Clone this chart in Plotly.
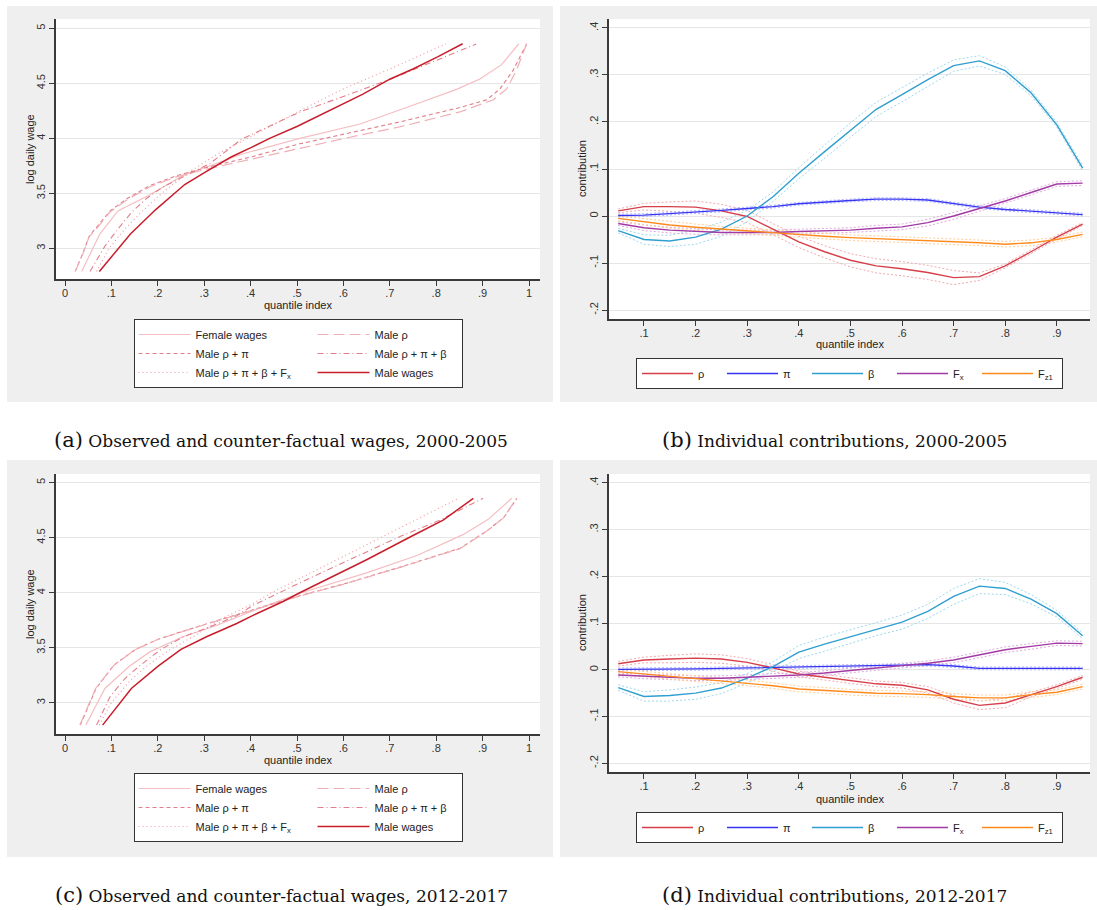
import plotly.graph_objects as go

W, H = 1097, 910

# ---------------- data: panel (a) 2000-2005, quantile index vs log daily wage ----------------
a_female_q = [0.036, 0.075, 0.114, 0.182, 0.255, 0.384, 0.506, 0.636, 0.736, 0.844, 0.894, 0.941, 0.978]
a_female_w = [2.79, 3.13, 3.34, 3.485, 3.665, 3.86, 4.0, 4.13, 4.28, 4.445, 4.54, 4.67, 4.86]
a_rho_q = [0.022, 0.039, 0.052, 0.068, 0.097, 0.133, 0.183, 0.24, 0.305, 0.4, 0.506, 0.614, 0.722, 0.851, 0.923, 0.952, 0.973, 0.995]
a_rho_w = [2.79, 2.955, 3.105, 3.18, 3.33, 3.44, 3.56, 3.65, 3.72, 3.81, 3.91, 4.01, 4.105, 4.24, 4.35, 4.45, 4.62, 4.86]
a_rhopi_q = [0.022, 0.039, 0.052, 0.068, 0.097, 0.133, 0.183, 0.24, 0.305, 0.4, 0.506, 0.614, 0.722, 0.851, 0.909, 0.9375, 0.966, 0.995]
a_rhopi_w = [2.79, 2.96, 3.11, 3.19, 3.34, 3.45, 3.57, 3.66, 3.735, 3.83, 3.95, 4.05, 4.15, 4.28, 4.35, 4.45, 4.62, 4.86]
a_rpb_q = [0.054, 0.086, 0.115, 0.144, 0.176, 0.212, 0.269, 0.312, 0.38, 0.506, 0.6, 0.70, 0.886]
a_rpb_w = [2.79, 3.02, 3.18, 3.33, 3.455, 3.56, 3.68, 3.77, 3.99, 4.24, 4.38, 4.536, 4.857]
a_rpbf_q = [0.068, 0.095, 0.13, 0.165, 0.208, 0.27, 0.33, 0.392, 0.506, 0.6, 0.7, 0.821]
a_rpbf_w = [2.79, 3.0, 3.18, 3.33, 3.5, 3.7, 3.86, 4.0, 4.25, 4.45, 4.63, 4.86]
a_male_q = [0.074, 0.141, 0.195, 0.258, 0.305, 0.358, 0.403, 0.441, 0.501, 0.573, 0.641, 0.701, 0.75, 0.803, 0.857]
a_male_w = [2.79, 3.13, 3.35, 3.58, 3.70, 3.83, 3.92, 4.0, 4.11, 4.26, 4.40, 4.54, 4.63, 4.74, 4.86]

# ---------------- data: panel (c) 2012-2017 ----------------
c_female_q = [0.045, 0.086, 0.138, 0.182, 0.254, 0.325, 0.42, 0.506, 0.65, 0.76, 0.859, 0.912, 0.963]
c_female_w = [2.797, 3.13, 3.33, 3.46, 3.60, 3.70, 3.86, 3.995, 4.18, 4.34, 4.53, 4.667, 4.858]
c_rho_q = [0.032, 0.066, 0.105, 0.15, 0.2, 0.25, 0.305, 0.403, 0.506, 0.603, 0.722, 0.851, 0.909, 0.945, 0.973]
c_rho_w = [2.797, 3.13, 3.34, 3.48, 3.575, 3.645, 3.715, 3.84, 3.97, 4.08, 4.23, 4.40, 4.56, 4.68, 4.858]
c_rhopi_q = [0.033, 0.067, 0.106, 0.152, 0.202, 0.252, 0.307, 0.405, 0.508, 0.605, 0.724, 0.852, 0.91, 0.946, 0.974]
c_rhopi_w = [2.797, 3.13, 3.345, 3.485, 3.58, 3.65, 3.72, 3.845, 3.975, 4.085, 4.235, 4.405, 4.565, 4.685, 4.858]
c_rpb_q = [0.068, 0.097, 0.129, 0.162, 0.205, 0.255, 0.3125, 0.37, 0.403, 0.456, 0.506, 0.603, 0.722, 0.808, 0.901]
c_rpb_w = [2.797, 3.055, 3.22, 3.34, 3.48, 3.60, 3.69, 3.79, 3.88, 3.99, 4.09, 4.28, 4.51, 4.66, 4.858]
c_rpbf_q = [0.074, 0.1, 0.14, 0.178, 0.225, 0.276, 0.34, 0.40, 0.45, 0.506, 0.65, 0.848]
c_rpbf_w = [2.797, 3.0, 3.2, 3.34, 3.48, 3.60, 3.77, 3.89, 4.01, 4.13, 4.44, 4.858]
c_male_q = [0.081, 0.143, 0.2, 0.25, 0.305, 0.37, 0.403, 0.47, 0.506, 0.603, 0.65, 0.75, 0.815, 0.88]
c_male_w = [2.797, 3.13, 3.33, 3.485, 3.60, 3.72, 3.79, 3.92, 4.0, 4.2, 4.3, 4.52, 4.66, 4.858]

# ---------------- data: panels (b) and (d), individual contributions ----------------
quantiles = [0.05, 0.10, 0.15, 0.20, 0.25, 0.30, 0.35, 0.40, 0.45, 0.50,
             0.55, 0.60, 0.65, 0.70, 0.75, 0.80, 0.85, 0.90, 0.95]

b_rho = [0.011, 0.020, 0.020, 0.019, 0.011, -0.001, -0.028, -0.055, -0.076, -0.094,
         -0.106, -0.112, -0.120, -0.131, -0.129, -0.106, -0.076, -0.045, -0.017]
b_pi = [0.001, 0.002, 0.005, 0.008, 0.012, 0.016, 0.020, 0.026, 0.030, 0.033,
        0.036, 0.036, 0.034, 0.026, 0.019, 0.014, 0.010, 0.006, 0.003]
b_beta = [-0.031, -0.050, -0.053, -0.045, -0.028, 0.0, 0.041, 0.091, 0.137, 0.183,
          0.227, 0.258, 0.290, 0.320, 0.330, 0.309, 0.262, 0.194, 0.102]
b_fx = [-0.016, -0.025, -0.030, -0.033, -0.035, -0.035, -0.035, -0.033, -0.032, -0.030,
        -0.026, -0.023, -0.014, 0.0, 0.016, 0.032, 0.050, 0.068, 0.070]
b_fz = [-0.005, -0.012, -0.019, -0.024, -0.028, -0.032, -0.035, -0.039, -0.043, -0.046,
        -0.048, -0.050, -0.053, -0.055, -0.057, -0.060, -0.057, -0.050, -0.039]
# confidence band half-widths (dotted lines)
b_rho_ci = [0.004, 0.007, 0.010, 0.013, 0.014, 0.013, 0.012, 0.012, 0.013, 0.014,
            0.015, 0.015, 0.015, 0.015, 0.008, 0.004, 0.004, 0.004, 0.003]
b_pi_ci = [0.003] * 19
b_beta_ci = [0.005, 0.010, 0.012, 0.015, 0.015, 0.012, 0.010, 0.012, 0.014, 0.015,
             0.015, 0.015, 0.014, 0.012, 0.011, 0.008, 0.006, 0.005, 0.006]
b_fx_ci = [0.004, 0.006, 0.006, 0.006, 0.005, 0.005, 0.005, 0.005, 0.005, 0.005,
           0.006, 0.006, 0.007, 0.007, 0.006, 0.005, 0.005, 0.005, 0.005]
b_fz_ci = [0.005, 0.006, 0.007, 0.007, 0.006, 0.006, 0.006, 0.006, 0.006, 0.006,
           0.006, 0.006, 0.006, 0.006, 0.006, 0.006, 0.006, 0.005, 0.005]

d_rho = [0.013, 0.021, 0.023, 0.025, 0.023, 0.016, 0.004, -0.009, -0.016, -0.023,
         -0.030, -0.033, -0.043, -0.063, -0.076, -0.071, -0.053, -0.036, -0.016]
d_pi = [0.001, 0.001, 0.002, 0.002, 0.003, 0.004, 0.005, 0.006, 0.007, 0.008,
        0.009, 0.010, 0.011, 0.008, 0.003, 0.003, 0.003, 0.003, 0.003]
d_beta = [-0.038, -0.057, -0.055, -0.050, -0.039, -0.018, 0.007, 0.038, 0.055, 0.071,
          0.087, 0.102, 0.125, 0.157, 0.179, 0.174, 0.151, 0.120, 0.073]
d_fx = [-0.011, -0.014, -0.016, -0.018, -0.018, -0.016, -0.014, -0.011, -0.007, -0.001,
        0.004, 0.009, 0.014, 0.021, 0.032, 0.043, 0.050, 0.057, 0.056]
d_fz = [-0.004, -0.009, -0.014, -0.019, -0.023, -0.028, -0.034, -0.041, -0.044, -0.048,
        -0.050, -0.051, -0.053, -0.057, -0.060, -0.060, -0.053, -0.048, -0.036]
d_rho_ci = [0.005, 0.006, 0.008, 0.009, 0.009, 0.008, 0.007, 0.006, 0.006, 0.006,
            0.006, 0.006, 0.007, 0.008, 0.009, 0.010, 0.005, 0.004, 0.004]
d_pi_ci = [0.003] * 19
d_beta_ci = [0.006, 0.010, 0.012, 0.013, 0.012, 0.010, 0.010, 0.014, 0.015, 0.014,
             0.014, 0.015, 0.015, 0.017, 0.016, 0.013, 0.010, 0.007, 0.006]
d_fx_ci = [0.004, 0.005, 0.005, 0.005, 0.005, 0.005, 0.005, 0.005, 0.005, 0.005,
           0.005, 0.005, 0.005, 0.006, 0.006, 0.006, 0.006, 0.005, 0.005]
d_fz_ci = [0.005, 0.006, 0.006, 0.006, 0.006, 0.006, 0.006, 0.006, 0.006, 0.006,
           0.006, 0.006, 0.006, 0.006, 0.006, 0.006, 0.006, 0.005, 0.005]

# ---------------- labels / ticks ----------------
wage_names = ["Female wages", "Male ρ", "Male ρ + π", "Male ρ + π + β",
              "Male ρ + π + β + F<sub>x</sub>", "Male wages"]
contrib_names = ["ρ", "π", "β", "F<sub>x</sub>", "F<sub>z1</sub>"]
wage_ticks = [3, 3.5, 4, 4.5, 5]
wage_tick_text = ["3", "3.5", "4", "4.5", "5"]
q_ticks_full = [0, 0.1, 0.2, 0.3, 0.4, 0.5, 0.6, 0.7, 0.8, 0.9, 1]
q_text_full = ["0", ".1", ".2", ".3", ".4", ".5", ".6", ".7", ".8", ".9", "1"]
q_ticks_inner = [0.1, 0.2, 0.3, 0.4, 0.5, 0.6, 0.7, 0.8, 0.9]
q_text_inner = [".1", ".2", ".3", ".4", ".5", ".6", ".7", ".8", ".9"]
contrib_ticks = [-0.2, -0.1, 0, 0.1, 0.2, 0.3, 0.4]
contrib_tick_text = ["-.2", "-.1", "0", ".1", ".2", ".3", ".4"]
captions = ["Observed and counter-factual wages, 2000-2005",
            "Individual contributions, 2000-2005",
            "Observed and counter-factual wages, 2012-2017",
            "Individual contributions, 2012-2017"]

# ---------------- styles ----------------
SANS = "Liberation Sans, Arial, sans-serif"
SERIF = "DejaVu Serif, serif"
wage_styles = [
    dict(color="#f4bec2", dash="solid", width=1.2),            # Female wages
    dict(color="#eeb0b6", dash="11px,5px", width=1.2),         # Male rho
    dict(color="#e27f89", dash="4px,3px", width=1.1),          # Male rho+pi
    dict(color="#e27f89", dash="6px,3px,1px,3px", width=1.1),  # Male rho+pi+beta
    dict(color="#f09ca4", dash="1px,3px", width=1.2),          # + Fx
    dict(color="#c81d2b", dash="solid", width=1.5),            # Male wages
]
wage_groups = ["c1", "c2", "c1", "c2", "c1", "c2"]
wage_draw_order = [0, 2, 4, 1, 3, 5]
contrib_colors = ["#d63f4a", "#3535f2", "#2f9fd0", "#a23aa6", "#ff8a1c"]
ci_colors = ["#f2a9ae", "#b4b4ff", "#9fd8ee", "#ddaade", "#ffcd95"]

fig = go.Figure()


def add_wage_panel(xa, ya, legend_id, curves):
    for i in wage_draw_order:
        q, w = curves[i]
        fig.add_trace(go.Scatter(
            x=q, y=w, mode="lines", name=wage_names[i], line=wage_styles[i],
            xaxis=xa, yaxis=ya, legend=legend_id, legendgroup=legend_id + wage_groups[i],
            legendwidth=(112 if wage_groups[i] == "c1" else 82), hoverinfo="skip"))


def add_contrib_panel(xa, ya, legend_id, series, bands):
    for k, (s, hw) in enumerate(zip(series, bands)):
        for sign in (1, -1):
            fig.add_trace(go.Scatter(
                x=quantiles, y=[v + sign * h for v, h in zip(s, hw)], mode="lines",
                line=dict(color=ci_colors[k], width=1, dash="2px,2px"),
                xaxis=xa, yaxis=ya, showlegend=False, hoverinfo="skip"))
    for k, s in enumerate(series):
        fig.add_trace(go.Scatter(
            x=quantiles, y=s, mode="lines", name=contrib_names[k],
            line=dict(color=contrib_colors[k], width=1.4),
            xaxis=xa, yaxis=ya, legend=legend_id, hoverinfo="skip"))


add_wage_panel("x", "y", "legend",
               [(a_female_q, a_female_w), (a_rho_q, a_rho_w), (a_rhopi_q, a_rhopi_w),
                (a_rpb_q, a_rpb_w), (a_rpbf_q, a_rpbf_w), (a_male_q, a_male_w)])
add_contrib_panel("x2", "y2", "legend2",
                  [b_rho, b_pi, b_beta, b_fx, b_fz],
                  [b_rho_ci, b_pi_ci, b_beta_ci, b_fx_ci, b_fz_ci])
add_wage_panel("x3", "y3", "legend3",
               [(c_female_q, c_female_w), (c_rho_q, c_rho_w), (c_rhopi_q, c_rhopi_w),
                (c_rpb_q, c_rpb_w), (c_rpbf_q, c_rpbf_w), (c_male_q, c_male_w)])
add_contrib_panel("x4", "y4", "legend4",
                  [d_rho, d_pi, d_beta, d_fx, d_fz],
                  [d_rho_ci, d_pi_ci, d_beta_ci, d_fx_ci, d_fz_ci])

# ---------------- layout geometry (pixels) ----------------
def fx(px):
    return px / W


def fy(py):
    return 1 - py / H


AXIS_COLOR = "#3a3a3a"
GRID_COLOR = "#e6e6e6"
tickfont = dict(family=SANS, size=11, color="#333")


def xaxis_cfg(x0, x1, rng, tv, tt, anchor):
    return dict(domain=[fx(x0), fx(x1)], range=rng, anchor=anchor, tickvals=tv, ticktext=tt,
                showgrid=False, zeroline=False, showline=True, linecolor=AXIS_COLOR, linewidth=1.5,
                ticks="outside", ticklen=5, tickwidth=1.2, tickcolor=AXIS_COLOR, tickfont=tickfont,
                ticklabelstandoff=-2, fixedrange=True)


def yaxis_cfg(ytop, ybot, rng, tv, tt, anchor):
    return dict(domain=[fy(ybot), fy(ytop)], range=rng, anchor=anchor, tickvals=tv, ticktext=tt,
                tickangle=-90, showgrid=True, gridcolor=GRID_COLOR, gridwidth=1.2, zeroline=False,
                showline=True, linecolor=AXIS_COLOR, linewidth=1.5, ticks="outside", ticklen=5,
                tickwidth=1.2, tickcolor=AXIS_COLOR, tickfont=tickfont, fixedrange=True)


panels = {
    "a": dict(box=(7, 6, 553, 402), plot=(56, 19, 540, 279)),
    "b": dict(box=(560, 6, 1097, 402), plot=(609, 19, 1090, 319)),
    "c": dict(box=(7, 460, 553, 857), plot=(56, 474, 540, 734)),
    "d": dict(box=(560, 460, 1097, 857), plot=(609, 474, 1090, 772)),
}

shapes = []
for p in panels.values():
    x0, y0, x1, y1 = p["box"]
    shapes.append(dict(type="rect", xref="paper", yref="paper", x0=fx(x0), x1=fx(x1), y0=fy(y1), y1=fy(y0),
                       fillcolor="#efefef", line=dict(width=0), layer="below"))
for p in panels.values():
    x0, y0, x1, y1 = p["plot"]
    shapes.append(dict(type="rect", xref="paper", yref="paper", x0=fx(x0), x1=fx(x1), y0=fy(y1), y1=fy(y0),
                       fillcolor="#ffffff", line=dict(width=0), layer="below"))

wage_x_range = [-0.0194, 1.0237]
contrib_x_range = [0.0322, 0.9643]

annotations = []


def title_ann(text, x, y, angle=0):
    annotations.append(dict(text=text, x=fx(x), y=fy(y), xref="paper", yref="paper", showarrow=False,
                            textangle=angle, xanchor="center", yanchor="middle",
                            font=dict(family=SANS, size=11, color="#222")))


title_ann("quantile index", 298, 305)
title_ann("log daily wage", 30, 149, -90)
title_ann("quantile index", 849.5, 344)
title_ann("contribution", 582, 169, -90)
title_ann("quantile index", 298, 760)
title_ann("log daily wage", 30, 604, -90)
title_ann("quantile index", 849.5, 799)
title_ann("contribution", 582, 623, -90)

for lab, cap, cx, cy in [("(a)", captions[0], 281, 440), ("(b)", captions[1], 834, 440),
                         ("(c)", captions[2], 281, 895), ("(d)", captions[3], 834, 895)]:
    annotations.append(dict(text="<span style='font-size:21px'>" + lab + "</span> " + cap,
                            x=fx(cx), y=fy(cy), xref="paper", yref="paper", showarrow=False,
                            xanchor="center", yanchor="middle",
                            font=dict(family=SERIF, size=17, color="#111")))


def legend_cfg(cx, ytop, entrywidth=None, itemwidth=52, grouped=False):
    cfg = dict(x=fx(cx), y=fy(ytop), xanchor="center", yanchor="top", orientation="h",
               bgcolor="#ffffff", bordercolor="#333", borderwidth=1, itemwidth=itemwidth,
               font=dict(family=SANS, size=11, color="#222"), tracegroupgap=0,
               itemclick=False, itemdoubleclick=False)
    if grouped:
        cfg["traceorder"] = "grouped"
    if entrywidth is not None:
        cfg["entrywidth"] = entrywidth
    return cfg


fig.update_layout(
    width=W, height=H, margin=dict(l=0, r=0, t=0, b=0),
    paper_bgcolor="#ffffff", plot_bgcolor="rgba(0,0,0,0)",
    showlegend=True,
    xaxis=xaxis_cfg(56, 540, wage_x_range, q_ticks_full, q_text_full, "y"),
    yaxis=yaxis_cfg(19, 279, [2.721, 5.085], wage_ticks, wage_tick_text, "x"),
    xaxis2=xaxis_cfg(609, 1090, contrib_x_range, q_ticks_inner, q_text_inner, "y2"),
    yaxis2=yaxis_cfg(19, 319, [-0.219, 0.419], contrib_ticks, contrib_tick_text, "x2"),
    xaxis3=xaxis_cfg(56, 540, wage_x_range, q_ticks_full, q_text_full, "y3"),
    yaxis3=yaxis_cfg(474, 734, [2.716, 5.079], wage_ticks, wage_tick_text, "x3"),
    xaxis4=xaxis_cfg(609, 1090, contrib_x_range, q_ticks_inner, q_text_inner, "y4"),
    yaxis4=yaxis_cfg(474, 772, [-0.2186, 0.4188], contrib_ticks, contrib_tick_text, "x4"),
    legend=legend_cfg(298, 319, grouped=True),
    legend2=legend_cfg(849.5, 358, entrywidth=19, itemwidth=51),
    legend3=legend_cfg(298, 773, grouped=True),
    legend4=legend_cfg(849.5, 812, entrywidth=19, itemwidth=51),
    shapes=shapes, annotations=annotations,
)

fig.write_html("out.html")
